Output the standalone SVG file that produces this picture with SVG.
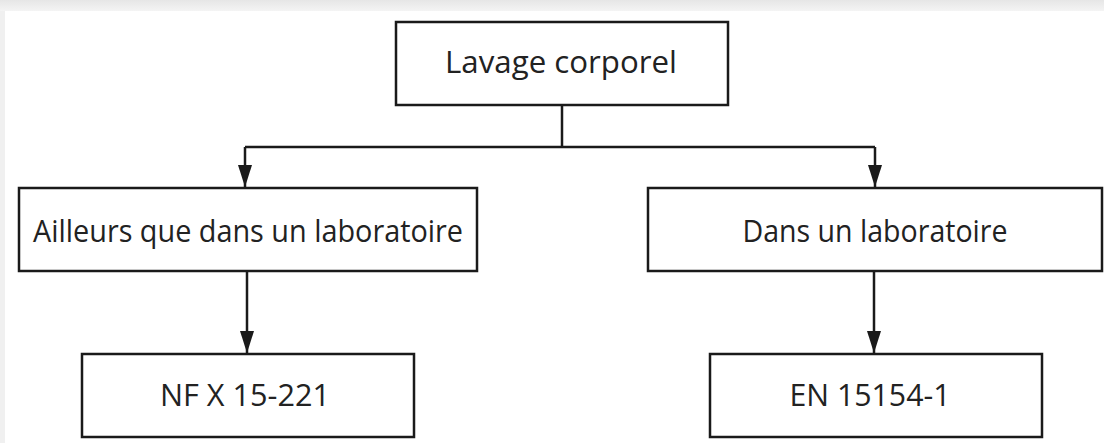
<svg xmlns="http://www.w3.org/2000/svg" width="1104" height="443" viewBox="0 0 1104 443">
  <defs>
    <linearGradient id="topband" x1="0" y1="0" x2="0" y2="1">
      <stop offset="0" stop-color="#e6e6e6"/>
      <stop offset="1" stop-color="#f4f4f4"/>
    </linearGradient>
    <marker id="arrow" viewBox="0 0 22 14" refX="22" refY="7" markerWidth="22" markerHeight="14" markerUnits="userSpaceOnUse" orient="auto">
      <path d="M0,0 L22,7 L0,14 Z" fill="#1a1a1a"/>
    </marker>
  </defs>
  <style>
    .box { fill: #ffffff; stroke: #1a1a1a; stroke-width: 2.5; }
    .lbl { font-family: "Open Sans", "Noto Sans", "Liberation Sans", sans-serif; font-size: 31px; fill: #222222; text-anchor: middle; }
    .conn { fill: none; stroke: #1a1a1a; stroke-width: 2.5; }
  </style>
  <rect x="0" y="0" width="1104" height="443" fill="#f0f0f0"/>
  <rect x="0" y="0" width="1104" height="11" fill="url(#topband)"/>
  <rect x="5" y="11" width="1099" height="432" fill="#ffffff"/>

  <g id="connectors">
    <path class="conn" d="M562,105 V147"/>
    <path class="conn" d="M245,147 H875"/>
    <path class="conn" d="M245,147 V187" marker-end="url(#arrow)"/>
    <path class="conn" d="M875,147 V187" marker-end="url(#arrow)"/>
    <path class="conn" d="M247,271 V353" marker-end="url(#arrow)"/>
    <path class="conn" d="M874,271 V353" marker-end="url(#arrow)"/>
  </g>

  <g id="node-lavage">
    <rect class="box" x="396" y="22" width="332" height="83"/>
    <text class="lbl" x="561" y="73" textLength="232" lengthAdjust="spacingAndGlyphs">Lavage corporel</text>
  </g>
  <g id="node-ailleurs">
    <rect class="box" x="19" y="188" width="458" height="83"/>
    <text class="lbl" x="248" y="242" textLength="430" lengthAdjust="spacingAndGlyphs">Ailleurs que dans un laboratoire</text>
  </g>
  <g id="node-dans">
    <rect class="box" x="648" y="188" width="454" height="83"/>
    <text class="lbl" x="875" y="242" textLength="265" lengthAdjust="spacingAndGlyphs">Dans un laboratoire</text>
  </g>
  <g id="node-nfx">
    <rect class="box" x="82" y="354" width="332" height="83"/>
    <text class="lbl" x="245" y="406" textLength="170" lengthAdjust="spacingAndGlyphs">NF X 15-221</text>
  </g>
  <g id="node-en">
    <rect class="box" x="710" y="354" width="332" height="83"/>
    <text class="lbl" x="870" y="406" textLength="161" lengthAdjust="spacingAndGlyphs">EN 15154-1</text>
  </g>
</svg>
